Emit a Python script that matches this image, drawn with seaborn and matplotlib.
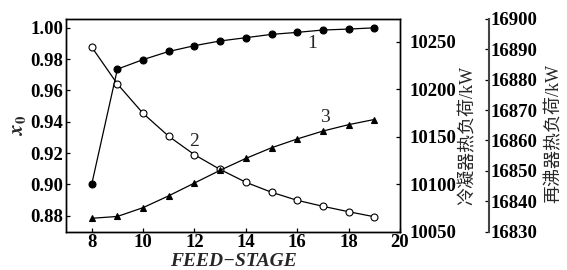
import matplotlib
matplotlib.use("Agg")
import matplotlib.pyplot as plt
import seaborn as sns

# dados
estagio = [8, 9, 10, 11, 12, 13, 14, 15, 16, 17, 18, 19]
x0 = [0.900, 0.9736, 0.9797, 0.9849, 0.9886, 0.9916, 0.9937, 0.9958, 0.9971, 0.9986, 0.9992, 1.000]
condensador = [10244.4, 10205.5, 10174.5, 10150.4, 10131.0, 10115.5, 10102.0, 10091.5, 10083.0, 10076.7, 10071.0, 10065.7]
refervedor = [16834.4, 16835.0, 16837.9, 16841.8, 16846.0, 16850.2, 16854.1, 16857.6, 16860.5, 16863.1, 16865.2, 16866.9]

xticks = [8, 10, 12, 14, 16, 18, 20]
yticks_x0 = [0.88, 0.90, 0.92, 0.94, 0.96, 0.98, 1.00]
yticks_cond = [10050, 10100, 10150, 10200, 10250]
yticks_ref = [16830, 16840, 16850, 16860, 16870, 16880, 16890, 16900]

sns.set_style("ticks")
plt.rcParams['font.family'] = ['Liberation Serif', 'Noto Sans CJK SC']
plt.rcParams['font.weight'] = 'bold'
plt.rcParams['mathtext.fontset'] = 'stix'

fonte_cjk = ['Liberation Serif', 'Noto Sans CJK SC']
tam = 13.5

fig = plt.figure(figsize=(5.67, 2.70), dpi=100)
ax = fig.add_axes([0.1164, 0.142, 0.589, 0.788])
ax2 = ax.twinx()
ax3 = ax.twinx()

estilo = dict(color='black', linewidth=0.9, markersize=5, markeredgewidth=0.8, markeredgecolor='black')
sns.lineplot(x=estagio, y=x0, ax=ax, marker='o', markerfacecolor='black', **estilo)
sns.lineplot(x=estagio, y=condensador, ax=ax2, marker='o', markerfacecolor='white', **estilo)
sns.lineplot(x=estagio, y=refervedor, ax=ax3, marker='^', markerfacecolor='black', **estilo)

ax.set_xlim(7, 20)
ax.set_ylim(0.8698, 1.0057)
ax2.set_ylim(10050, 10274)
ax3.set_ylim(16830, 16900)

ax.set_xticks(xticks)
ax.set_yticks(yticks_x0)
ax.set_yticklabels([f"{v:.2f}" for v in yticks_x0])
ax2.set_yticks(yticks_cond)
ax3.set_yticks(yticks_ref)

for a in (ax, ax2, ax3):
    for s in a.spines.values():
        s.set_linewidth(1.0)
        s.set_color('black')

ax.tick_params(axis='both', direction='in', length=3, width=0.9, pad=2, colors='black', labelsize=tam)
ax2.tick_params(axis='y', direction='in', length=3, width=0.9, pad=7, colors='black', labelsize=tam)
ax3.tick_params(axis='y', direction='in', length=3, width=0.9, pad=1, colors='black', labelsize=tam)

ax3.spines['right'].set_position(('axes', 1.266))
ax3.spines['right'].set_color('#444444')
ax3.spines['right'].set_linewidth(1.5)
for lado in ('top', 'bottom', 'left'):
    ax3.spines[lado].set_visible(False)

ax.set_xlabel("FEED\u2212STAGE", fontsize=14, fontstyle='italic', fontweight='bold', labelpad=1)
ax.set_ylabel("$x_0$", fontsize=15, labelpad=2)
ax2.set_ylabel("冷凝器热负荷/kW", family=fonte_cjk, fontweight='normal', fontsize=13)
ax3.set_ylabel("再沸器热负荷/kW", family=fonte_cjk, fontweight='normal', fontsize=13)
ax2.yaxis.set_label_coords(1.18, 0.45)
ax3.yaxis.set_label_coords(1.437, 0.46)

ax.text(16.6, 0.9903, "1", fontsize=14, fontweight='normal', ha='center', va='center')
ax.text(12.0, 0.9276, "2", fontsize=14, fontweight='normal', ha='center', va='center')
ax.text(17.08, 0.9427, "3", fontsize=14, fontweight='normal', ha='center', va='center')

fig.savefig("out.png", dpi=100)
